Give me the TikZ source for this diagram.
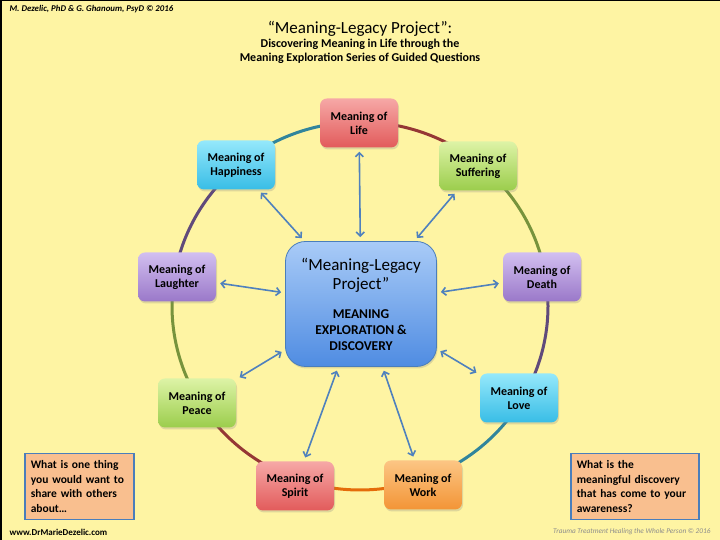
\documentclass[tikz,border=0pt]{standalone}
\usepackage{fontspec}
\setmainfont{Carlito}
\usetikzlibrary{arrows.meta,shadows}

\definecolor{bgyellow}{HTML}{FEF4A3}
\definecolor{redtop}{HTML}{F6A8A6}
\definecolor{redbot}{HTML}{E25B5B}
\definecolor{cyantop}{HTML}{95E8FB}
\definecolor{cyanbot}{HTML}{38BDE6}
\definecolor{greentop}{HTML}{DDF3A6}
\definecolor{greenbot}{HTML}{9BCD4C}
\definecolor{purpletop}{HTML}{D2BFF0}
\definecolor{purplebot}{HTML}{9A78C9}
\definecolor{orangetop}{HTML}{FCC584}
\definecolor{orangebot}{HTML}{F39536}
\definecolor{bluetop}{HTML}{A9CBF7}
\definecolor{bluebot}{HTML}{4F8CE2}
\definecolor{blueedge}{HTML}{4A7EBB}
\definecolor{arrowblue}{HTML}{4F81BD}
\definecolor{peach}{HTML}{F9BF8F}
\definecolor{ringbrown}{HTML}{953735}
\definecolor{ringgreen}{HTML}{77933C}
\definecolor{ringpurple}{HTML}{604A7B}
\definecolor{ringteal}{HTML}{31859C}
\definecolor{ringorange}{HTML}{E46C0A}

\newcommand{\bigline}{\mdseries\fontsize{17}{19}\selectfont}

\tikzset{
  meaning/.style={rounded corners=7pt, minimum width=78pt, minimum height=49pt,
    align=center, text=black, font=\bfseries\fontsize{12}{14}\selectfont,
    drop shadow={shadow xshift=1pt, shadow yshift=-2pt, opacity=0.25}},
  redbox/.style={meaning, top color=redtop, bottom color=redbot},
  cyanbox/.style={meaning, top color=cyantop, bottom color=cyanbot},
  greenbox/.style={meaning, top color=greentop, bottom color=greenbot},
  purplebox/.style={meaning, top color=purpletop, bottom color=purplebot},
  orangebox/.style={meaning, top color=orangetop, bottom color=orangebot},
  question/.style={draw=blueedge, line width=1.5pt, fill=peach, align=left,
    inner sep=6pt, minimum height=66pt, text=black,
    font=\bfseries\fontsize{11.5}{14.5}\selectfont},
  ring/.style={line width=3pt},
  linkarrow/.style={draw=arrowblue, line width=1.6pt,
    arrows={Straight Barb[length=4pt,width=8pt]-Straight Barb[length=4pt,width=8pt]},
    shorten <=4pt, shorten >=4pt}
}

\begin{document}
\begin{tikzpicture}[x=1pt,y=1pt]

% page
\fill[bgyellow] (0,0) rectangle (720,540);
\useasboundingbox (0,0) rectangle (720,540);
\draw[line width=3pt] (0,0) -- (0,540);
\draw[line width=2pt] (0,540) -- (720,540);

% header and footer
\node[anchor=west, font=\bfseries\itshape\fontsize{8.8}{10}\selectfont] (authors) at (6,531) {M. Dezelic, PhD \& G. Ghanoum, PsyD © 2016};
\node[inner sep=0pt, font=\fontsize{17}{19}\selectfont] (title) at (360,511) {“Meaning-Legacy Project”:};
\node[inner sep=0pt, align=center, font=\bfseries\fontsize{12}{14}\selectfont] (subtitle) at (360,489) {Discovering Meaning in Life through the\\Meaning Exploration Series of Guided Questions};
\node[anchor=west, font=\bfseries\fontsize{9}{10}\selectfont] (website) at (6,8) {www.DrMarieDezelic.com};
\node[anchor=east, text=black!45, font=\itshape\fontsize{7.3}{8}\selectfont] (footnote) at (714,8) {Trauma Treatment Healing the Whole Person © 2016};

% ring, one colour per segment
\coordinate (R) at (360,234);
\draw[ring, ringbrown] (R) ++(90:188 and 184) arc[start angle=90, end angle=50, x radius=188, y radius=184];
\draw[ring, ringgreen] (R) ++(50:188 and 184) arc[start angle=50, end angle=10, x radius=188, y radius=184];
\draw[ring, ringpurple] (R) ++(10:188 and 184) arc[start angle=10, end angle=-30, x radius=188, y radius=184];
\draw[ring, ringteal] (R) ++(-30:188 and 184) arc[start angle=-30, end angle=-70, x radius=188, y radius=184];
\draw[ring, ringorange] (R) ++(-70:188 and 184) arc[start angle=-70, end angle=-110, x radius=188, y radius=184];
\draw[ring, ringbrown] (R) ++(-110:188 and 184) arc[start angle=-110, end angle=-150, x radius=188, y radius=184];
\draw[ring, ringgreen] (R) ++(-150:188 and 184) arc[start angle=-150, end angle=-190, x radius=188, y radius=184];
\draw[ring, ringpurple] (R) ++(170:188 and 184) arc[start angle=170, end angle=130, x radius=188, y radius=184];
\draw[ring, ringteal] (R) ++(130:188 and 184) arc[start angle=130, end angle=90, x radius=188, y radius=184];

% centre
\node[draw=blueedge, line width=0.8pt, rounded corners=20pt, top color=bluetop, bottom color=bluebot,
  minimum width=151pt, minimum height=125pt, align=center, text=black,
  font=\bfseries\fontsize{13.5}{16}\selectfont,
  drop shadow={shadow xshift=1pt, shadow yshift=-2pt, opacity=0.25}] (project) at (361,236)
  {\bigline “Meaning-Legacy\\[3pt]\bigline Project”\\[13pt]MEANING\\EXPLORATION \&\\DISCOVERY};

% the nine questions
\node[redbox] (life) at (359,417) {Meaning of\\Life};
\node[greenbox] (suffering) at (478,374) {Meaning of\\Suffering};
\node[purplebox] (death) at (542,263) {Meaning of\\Death};
\node[cyanbox] (love) at (519,142) {Meaning of\\Love};
\node[orangebox] (work) at (423,55) {Meaning of\\Work};
\node[redbox] (spirit) at (295,54) {Meaning of\\Spirit};
\node[greenbox] (peace) at (197,137) {Meaning of\\Peace};
\node[purplebox] (laughter) at (177,263) {Meaning of\\Laughter};
\node[cyanbox] (happiness) at (236,375) {Meaning of\\Happiness};

% links
\draw[linkarrow] (project) -- (life);
\draw[linkarrow] (project) -- (suffering);
\draw[linkarrow] (project) -- (death);
\draw[linkarrow] (project) -- (love);
\draw[linkarrow] (project) -- (work);
\draw[linkarrow] (project) -- (spirit);
\draw[linkarrow] (project) -- (peace);
\draw[linkarrow] (project) -- (laughter);
\draw[linkarrow] (project) -- (happiness);

% questions in the corners
\node[question, text width=97pt, anchor=north west] (askleft) at (24,87) {What is one thing\\you would want to\\share with others\\about…};
\node[question, text width=116pt, anchor=north west] (askright) at (570,87) {What is the\\meaningful discovery\\that has come to your\\awareness?};

\end{tikzpicture}
\end{document}
